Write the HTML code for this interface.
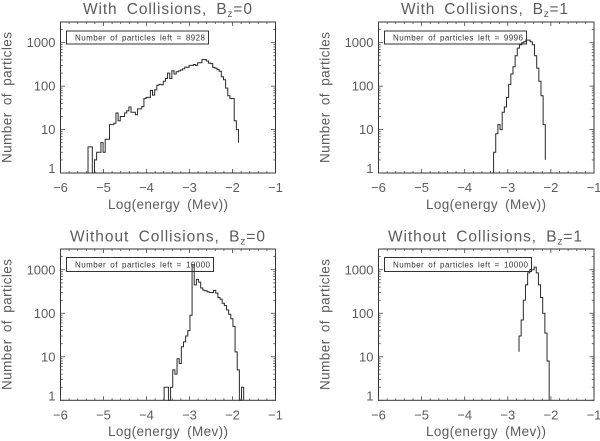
<!DOCTYPE html>
<html lang="en">
<head>
<meta charset="utf-8">
<title>Particle energy histograms</title>
<style>
html,body{margin:0;padding:0;background:#fff;width:600px;height:441px;overflow:hidden}
svg{display:block;filter:blur(.3px)}
text{font-family:"Liberation Sans",sans-serif;fill:#5c5c5c}
.title{font-size:15.5px;word-spacing:4px}
.axis-title{font-size:13.5px;word-spacing:3px}
.tick-label{font-size:13px}
.legend-text{font-size:8px;fill:#333;word-spacing:1.5px}
.legend-box{fill:none;stroke:#333;stroke-width:1}
.frame{fill:none;stroke:#333;stroke-width:1}
.tick{stroke:#444;stroke-width:.8}
.hist{fill:none;stroke:#2a2a2a;stroke-width:1}
</style>
</head>
<body>
<svg id="figure" xmlns="http://www.w3.org/2000/svg" width="600" height="441" viewBox="0 0 600 441">
  <g id="panel-a">
    <text class="title" x="83" y="14" textLength="169" lengthAdjust="spacing">With Collisions, B<tspan font-size="10" dy="3">z</tspan><tspan dy="-3">=0</tspan></text>
    <text class="axis-title" x="108" y="209" textLength="120" lengthAdjust="spacing">Log(energy (Mev))</text>
    <text class="axis-title" transform="translate(11.5,163) rotate(-90)" textLength="131" lengthAdjust="spacing">Number of particles</text>
    <rect class="legend-box" x="66.5" y="31" width="142" height="13"/>
    <text class="legend-text" x="75" y="40.5" textLength="130" lengthAdjust="spacing">Number of particles left = 8928</text>
  </g>
  <g id="panel-b">
    <text class="title" x="401" y="14" textLength="167" lengthAdjust="spacing">With Collisions, B<tspan font-size="10" dy="3">z</tspan><tspan dy="-3">=1</tspan></text>
    <text class="axis-title" x="426" y="209" textLength="120" lengthAdjust="spacing">Log(energy (Mev))</text>
    <text class="axis-title" transform="translate(329.5,163) rotate(-90)" textLength="131" lengthAdjust="spacing">Number of particles</text>
    <rect class="legend-box" x="384.5" y="31" width="142" height="13"/>
    <text class="legend-text" x="393" y="40.5" textLength="130" lengthAdjust="spacing">Number of particles left = 9996</text>
  </g>
  <g id="panel-c">
    <text class="title" x="70" y="241.5" textLength="195" lengthAdjust="spacing">Without Collisions, B<tspan font-size="10" dy="3">z</tspan><tspan dy="-3">=0</tspan></text>
    <text class="axis-title" x="108" y="436" textLength="120" lengthAdjust="spacing">Log(energy (Mev))</text>
    <text class="axis-title" transform="translate(11.5,390) rotate(-90)" textLength="131" lengthAdjust="spacing">Number of particles</text>
    <rect class="legend-box" x="66.5" y="257.5" width="147" height="14"/>
    <text class="legend-text" x="75" y="267.5" textLength="135" lengthAdjust="spacing">Number of particles left = 10000</text>
  </g>
  <g id="panel-d">
    <text class="title" x="388" y="241.5" textLength="194" lengthAdjust="spacing">Without Collisions, B<tspan font-size="10" dy="3">z</tspan><tspan dy="-3">=1</tspan></text>
    <text class="axis-title" x="426" y="436" textLength="120" lengthAdjust="spacing">Log(energy (Mev))</text>
    <text class="axis-title" transform="translate(329.5,390) rotate(-90)" textLength="131" lengthAdjust="spacing">Number of particles</text>
    <rect class="legend-box" x="384.5" y="257.5" width="147" height="14"/>
    <text class="legend-text" x="393" y="267.5" textLength="135" lengthAdjust="spacing">Number of particles left = 10000</text>
  </g>
</svg>
<script>
const xTickValues = [-6, -5, -4, -3, -2, -1];
const xTickLabels = ['\u22126', '\u22125', '\u22124', '\u22123', '\u22122', '\u22121'];
const yTickValues = [1, 10, 100, 1000];
const yTickLabels = ['1', '10', '100', '1000'];
const xDomain = [-6, -1];
const yDomain = [1, 3000];
const binWidth = 0.05;

const countsA = [4,4,1,2,3,3,5,3,6,6,13,13,14,24,16,20,20,24,27,33,25,25,22,30,30,34,52,55,55,80,62,82,105,110,108,130,150,200,150,225,190,215,225,235,250,275,270,300,300,315,300,345,345,410,410,380,340,330,270,260,240,220,165,140,90,60,52,52,16,10,5];
const startA = -5.36;
const baseA = 1;

const countsB = [3,8,13,10,25,33,55,110,190,280,500,750,900,1000,1050,1150,1150,1050,900,500,260,130,60,13,2];
const startB = -3.33;
const baseB = 1;

const countsC = [2,2,1,2,5,4,9,7,17,22,30,40,90,1300,450,600,520,380,340,330,310,300,300,335,290,230,210,170,150,120,95,75,50,13,5,1,2,1];
const startC = -3.59;
const baseC = 1;

const countsD = [30,70,200,450,850,1000,1000,1150,850,450,230,100,35,8,1];
const startD = -2.74;
const baseD = 13;

const svgNS = 'http://www.w3.org/2000/svg';

function makeEl(parent, tag, cls) {
  const el = document.createElementNS(svgNS, tag);
  if (cls) el.setAttribute('class', cls);
  parent.appendChild(el);
  return el;
}

function drawTick(parent, x1, y1, x2, y2, name) {
  const t = makeEl(parent, 'line', 'tick');
  t.setAttribute('x1', x1);
  t.setAttribute('y1', y1);
  t.setAttribute('x2', x2);
  t.setAttribute('y2', y2);
  
  
}

function drawPanel(id, left, right, top, bottom, counts, start, base) {
  const g = document.getElementById(id);
  const sx = function (v) { return left + (v - xDomain[0]) / (xDomain[1] - xDomain[0]) * (right - left); };
  const sy = function (v) { return bottom - Math.log10(v) / Math.log10(yDomain[1] / yDomain[0]) * (bottom - top); };

  const frame = makeEl(g, 'rect', 'frame');
  frame.setAttribute('x', left);
  frame.setAttribute('y', top);
  frame.setAttribute('width', right - left);
  frame.setAttribute('height', bottom - top);
  
  

  for (let v = xDomain[0]; v <= xDomain[1] + 1e-6; v += 0.2) {
    const isMajor = Math.abs(v - Math.round(v)) < 1e-6;
    const len = isMajor ? 4 : 2;
    drawTick(g, sx(v), bottom, sx(v), bottom - len, 'x-tick');
    drawTick(g, sx(v), top, sx(v), top + len, 'x-tick-top');
  }

  for (let d = 1; d <= 1000; d *= 10) {
    for (let m = 1; m <= 9; m++) {
      const v = d * m;
      if (v > yDomain[1]) continue;
      const len = m === 1 ? 4.5 : 2.2;
      drawTick(g, left, sy(v), left + len, sy(v), 'y-tick');
      drawTick(g, right, sy(v), right - len, sy(v), 'y-tick-right');
    }
  }

  xTickValues.forEach(function (v, i) {
    const t = makeEl(g, 'text', 'tick-label');
    t.setAttribute('x', sx(v));
    t.setAttribute('y', bottom + 19);
    t.setAttribute('text-anchor', 'middle');
    
    
    t.textContent = xTickLabels[i];
  });

  yTickValues.forEach(function (v, i) {
    const t = makeEl(g, 'text', 'tick-label');
    t.setAttribute('x', left - 5);
    t.setAttribute('y', sy(v) + (v === 1 ? 0 : 4.5));
    t.setAttribute('text-anchor', 'end');
    
    
    t.textContent = yTickLabels[i];
  });

  let d = 'M' + sx(start).toFixed(2) + ' ' + sy(base).toFixed(2);
  counts.forEach(function (c, i) {
    d += ' V' + sy(c).toFixed(2);
    if (i < counts.length - 1) d += ' H' + sx(start + (i + 1) * binWidth).toFixed(2);
  });
  const line = makeEl(g, 'path', 'hist');
  line.setAttribute('d', d);
  
  
}

drawPanel('panel-a', 60.5, 275.5, 22, 173, countsA, startA, baseA);
drawPanel('panel-b', 378.5, 594, 22, 173, countsB, startB, baseB);
drawPanel('panel-c', 60.5, 275.5, 249, 400.3, countsC, startC, baseC);
drawPanel('panel-d', 378.5, 594, 249, 400.3, countsD, startD, baseD);
</script>
</body>
</html>
